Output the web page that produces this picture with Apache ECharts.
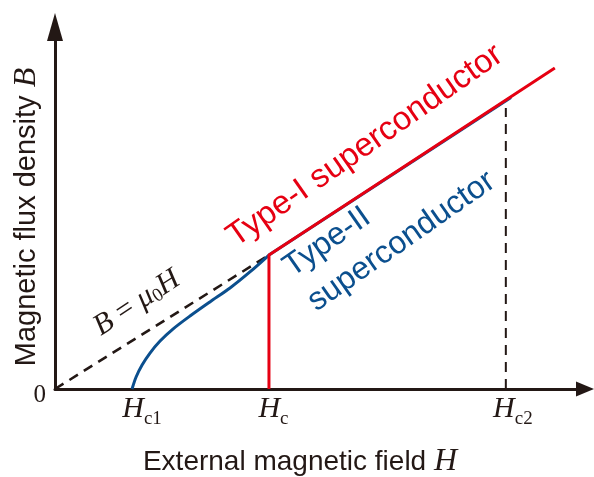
<!DOCTYPE html>
<html><head><meta charset="utf-8">
<script src="https://cdn.jsdelivr.net/npm/echarts@6/dist/echarts.min.js"></script>
<style>html,body{margin:0;padding:0;background:#fff}#c{width:594px;height:477px}</style>
</head><body><div id="c"></div>
<script>
// B = mu0 H reference line
const muLineH = [0, 10];
const muLineB = [0, 6.26];
// Type-I superconductor
const typeIH = [10, 10, 23.36];
const typeIB = [0, 6.26, 15.0];
// Type-II superconductor: curved part (Hc1 -> Hc) and straight part (Hc -> Hc2)
const typeIICurveH = [3.60, 3.79, 4.07, 4.44, 4.91, 5.51, 6.31, 7.24, 8.18, 9.11, 10];
const typeIICurveB = [0, 0.56, 1.12, 1.68, 2.24, 2.80, 3.41, 4.07, 4.72, 5.47, 6.26];
const typeIILineH = [10, 21.31];
const typeIILineB = [6.26, 13.62];
// Hc2 guide
const hc2H = [21.07, 21.07];
const hc2B = [0, 13.13];
// tick labels
const xTickValues = [3.60, 10, 21.07];
const xTickSubs = ['c1', 'c', 'c2'];
const yTickValues = [0];
const yTickLabels = ['0'];

const INK = '#231815', RED = '#e60012', BLUE = '#0b4f8e';
const SERIF = 'Liberation Serif', SANS = 'Liberation Sans';
const pairs = (a, b) => a.map((v, i) => [v, b[i]]);

const chart = echarts.init(document.getElementById('c'), null, {renderer: 'canvas'});
chart.setOption({
  animation: false,
  backgroundColor: '#fff',
  grid: {left: 55, right: 9, top: 27, bottom: 88, containLabel: false, outerBoundsMode: 'none'},
  xAxis: {
    type: 'value', min: 0, max: 24.77,
    splitLine: {show: false}, axisTick: {show: false},
    axisLine: {lineStyle: {color: INK, width: 3}, symbol: ['none', 'triangle'], symbolSize: [15, 18]},
    axisLabel: {
      customValues: xTickValues, margin: 5,
      formatter: function (v) {
        const i = xTickValues.indexOf(v);
        if (i < 0) return '';
        return '{sp' + i + '| }{h|H}{s|' + xTickSubs[i] + '}';
      },
      rich: {
        sp0: {width: 20, fontSize: 18},
        sp1: {width: 9, fontSize: 18},
        sp2: {width: 14, fontSize: 18},
        h: {fontFamily: SERIF, fontStyle: 'italic', fontSize: 30, color: INK, verticalAlign: 'bottom', padding: [0, 0, 5, 0]},
        s: {fontFamily: SERIF, fontSize: 19, color: INK, verticalAlign: 'bottom'}
      }
    },
    name: 'External magnetic field {i|H}', nameLocation: 'middle', nameGap: 57, nameMoveOverlap: false,
    nameTextStyle: {fontFamily: SANS, fontSize: 28, color: INK, padding: [0, 40, 0, 0],
      rich: {i: {fontFamily: SERIF, fontStyle: 'italic', fontSize: 32, color: INK}}}
  },
  yAxis: {
    type: 'value', min: 0, max: 16.92,
    splitLine: {show: false}, axisTick: {show: false},
    axisLine: {lineStyle: {color: INK, width: 3}, symbol: ['none', 'triangle'], symbolSize: [16, 28]},
    axisLabel: {
      customValues: yTickValues, margin: 9,
      formatter: function (v) { const i = yTickValues.indexOf(v); return i < 0 ? '' : '{z|' + yTickLabels[i] + '}'; },
      rich: {z: {fontFamily: SERIF, fontSize: 25, color: INK, padding: [12, 0, 0, 0]}}
    },
    name: 'Magnetic flux density {i|B}', nameLocation: 'middle', nameGap: 12, nameMoveOverlap: false,
    nameTextStyle: {fontFamily: SANS, fontSize: 29, color: INK, padding: [0, 18, 0, 0],
      rich: {i: {fontFamily: SERIF, fontStyle: 'italic', fontSize: 32, color: INK}}}
  },
  series: [
    {type: 'line', name: 'mu0H', data: pairs(muLineH, muLineB), symbol: 'none', z: 2,
      lineStyle: {color: INK, width: 2.6, type: [10, 7]}},
    {type: 'line', name: 'Hc2', data: pairs(hc2H, hc2B), symbol: 'none', z: 2,
      lineStyle: {color: INK, width: 2, type: [10, 7]}},
    {type: 'line', name: 'Type-II', data: pairs(typeIICurveH, typeIICurveB), symbol: 'none', smooth: 0.3, z: 3,
      lineStyle: {color: BLUE, width: 3}},
    {type: 'line', name: 'Type-II', data: pairs(typeIILineH, typeIILineB), symbol: 'none', z: 3,
      lineStyle: {color: BLUE, width: 3}},
    {type: 'line', name: 'Type-I', data: pairs(typeIH, typeIB), symbol: 'none', z: 4,
      lineStyle: {color: RED, width: 3}}
  ],
  graphic: [
    {type: 'text', x: 365, y: 146, rotation: 35 * Math.PI / 180, z: 10,
      style: {text: 'Type-I superconductor', fontFamily: SANS, fontSize: 33, fill: RED, align: 'center', verticalAlign: 'middle'}},
    {type: 'text', x: 275, y: 253, rotation: 35 * Math.PI / 180, z: 10,
      style: {text: 'Type-II\nsuperconductor', fontFamily: SANS, fontSize: 32, lineHeight: 42, fill: BLUE, align: 'left', verticalAlign: 'top'}},
    {type: 'text', x: 137, y: 303, rotation: 33 * Math.PI / 180, z: 10,
      style: {text: '{b|B} = {b|μ}{s|0}{b|H}', fontFamily: SERIF, fontSize: 30, fill: INK, align: 'center', verticalAlign: 'middle',
        rich: {b: {fontFamily: SERIF, fontStyle: 'italic', fontSize: 30, fill: INK, verticalAlign: 'bottom'},
               s: {fontFamily: SERIF, fontSize: 19, fill: INK, verticalAlign: 'bottom'}}}}
  ]
});
</script>
</body></html>
